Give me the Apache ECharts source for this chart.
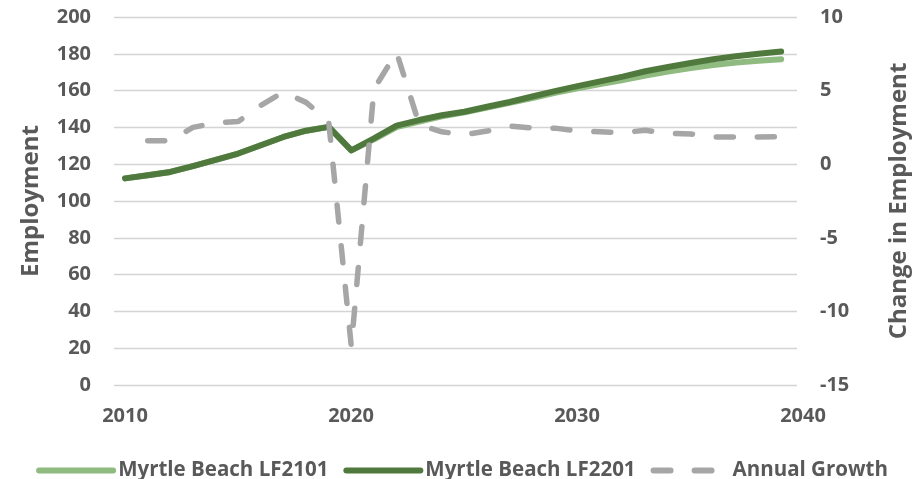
<!DOCTYPE html>
<html>
<head>
<meta charset="utf-8">
<script src="https://cdn.jsdelivr.net/npm/echarts@6/dist/echarts.min.js"></script>
<style>
  html, body { margin: 0; padding: 0; background: #ffffff; }
  #chart { width: 924px; height: 479px; }
</style>
</head>
<body>
<div id="chart"></div>
<script>
// Employment forecast, 2010-2039
const years = [2010, 2011, 2012, 2013, 2014, 2015, 2016, 2017, 2018, 2019,
               2020, 2021, 2022, 2023, 2024, 2025, 2026, 2027, 2028, 2029,
               2030, 2031, 2032, 2033, 2034, 2035, 2036, 2037, 2038, 2039];

const lf2101 = [112.3, 114.0, 115.8, 119.0, 122.3, 125.8, 130.3, 134.8, 138.2, 140.3,
                127.5, 133.5, 140.2, 143.2, 146.0, 148.2, 150.8, 153.3, 156.0, 158.8,
                161.2, 163.5, 165.8, 168.2, 170.3, 172.2, 173.9, 175.2, 176.2, 177.1];

const lf2201 = [112.3, 114.0, 115.8, 119.0, 122.3, 125.8, 130.3, 134.8, 138.2, 140.3,
                127.5, 134.0, 141.0, 144.0, 146.6, 148.5, 151.2, 153.8, 156.8, 159.7,
                162.4, 165.0, 167.6, 170.5, 172.8, 175.0, 177.0, 178.7, 180.0, 181.2];

const annualGrowth = [null, 1.6, 1.6, 2.5, 2.8, 2.9, 4.0, 4.9, 4.2, 2.9,
                      -12.4, 5.1, 7.6, 2.7, 2.2, 2.0, 2.25, 2.6, 2.45, 2.45,
                      2.25, 2.2, 2.15, 2.3, 2.1, 2.05, 1.85, 1.85, 1.85, 1.87];

const yearTicks = [2010, 2020, 2030, 2040];
const employmentTicks = [0, 200, 20];   // min, max, step
const changeTicks = [-15, 10, 5];       // min, max, step

const seriesNames = ['Myrtle Beach LF2101', 'Myrtle Beach LF2201', 'Annual Growth'];

const TEXT = '#595959';
const FONT = "'Open Sans', sans-serif";

const pairs = (vals) => years.map((y, i) => [y, vals[i]]);

const tickText = { color: TEXT, fontSize: 20, fontWeight: 'bold', fontFamily: FONT };
const titleText = { color: TEXT, fontSize: 24, fontWeight: 'bold', fontFamily: FONT };

const chart = echarts.init(document.getElementById('chart'), null, { renderer: 'canvas' });

chart.setOption({
  animation: false,
  backgroundColor: '#ffffff',
  textStyle: { fontFamily: FONT },
  grid: [
    // plotting area
    { left: 114, right: 127, top: 17, bottom: 94, containLabel: false },
    // strip that carries the year labels under the plot
    { left: 125, right: 121, top: 384, height: 1, containLabel: false }
  ],
  legend: {
    data: seriesNames,
    left: 'center',
    top: 455,
    itemWidth: 74,
    itemHeight: 14,
    itemGap: 15,
    // legend keys are plain line samples, without the point marker
    itemStyle: { opacity: 0 },
    lineStyle: { width: 6 },
    textStyle: { color: TEXT, fontSize: 20.5, fontWeight: 'bold', fontFamily: FONT }
  },
  xAxis: [
    {
      gridIndex: 0, type: 'value',
      min: 2009.51, max: 2039.7,
      axisLine: { show: false }, axisTick: { show: false },
      axisLabel: { show: false }, splitLine: { show: false }
    },
    {
      gridIndex: 1, type: 'value',
      min: yearTicks[0], max: yearTicks[yearTicks.length - 1], interval: 10,
      axisLine: { show: false }, axisTick: { show: false }, splitLine: { show: false },
      axisLabel: Object.assign({ margin: 21, customValues: yearTicks, formatter: (v) => String(v) }, tickText)
    }
  ],
  yAxis: [
    {
      gridIndex: 0, type: 'value', position: 'left',
      min: employmentTicks[0], max: employmentTicks[1], interval: employmentTicks[2],
      name: 'Employment', nameLocation: 'middle', nameGap: 71, nameRotate: 90,
      nameTextStyle: titleText,
      axisLine: { show: false }, axisTick: { show: false },
      axisLabel: Object.assign({ margin: 23 }, tickText),
      splitLine: { show: true, lineStyle: { color: '#d4d4d4', width: 1.3 } }
    },
    {
      gridIndex: 0, type: 'value', position: 'right',
      min: changeTicks[0], max: changeTicks[1], interval: changeTicks[2],
      name: 'Change in Employment', nameLocation: 'middle', nameGap: 90, nameRotate: 90,
      nameTextStyle: titleText,
      axisLine: { show: false }, axisTick: { show: false },
      axisLabel: Object.assign({ margin: 23 }, tickText),
      splitLine: { show: false }
    },
    {
      gridIndex: 1, type: 'value', show: false, min: 0, max: 1
    }
  ],
  series: [
    {
      name: seriesNames[0], type: 'line', xAxisIndex: 0, yAxisIndex: 0,
      data: pairs(lf2101), symbol: 'none',
      lineStyle: { color: '#8fba80', width: 6, cap: 'round', join: 'round' },
      itemStyle: { color: '#8fba80' }
    },
    {
      name: seriesNames[1], type: 'line', xAxisIndex: 0, yAxisIndex: 0,
      data: pairs(lf2201), symbol: 'none',
      lineStyle: { color: '#507a3d', width: 6, cap: 'round', join: 'round' },
      itemStyle: { color: '#507a3d' }
    },
    {
      name: seriesNames[2], type: 'line', xAxisIndex: 0, yAxisIndex: 1,
      data: pairs(annualGrowth), symbol: 'none', connectNulls: false,
      lineStyle: { color: '#a6a6a6', width: 5.5, type: [17, 24], cap: 'round', join: 'round' },
      itemStyle: { color: '#a6a6a6' }
    }
  ]
});
</script>
</body>
</html>
